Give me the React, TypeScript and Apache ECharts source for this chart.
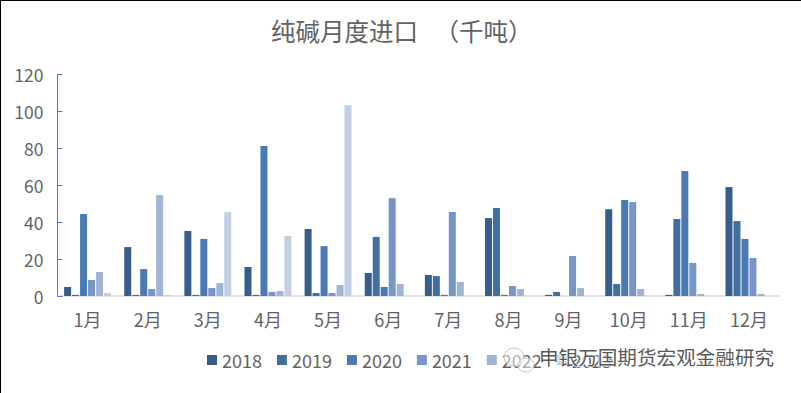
import React, { useEffect, useRef } from "react";
import * as echarts from "echarts";

const titleText = "纯碱月度进口   （千吨）";
const watermark = "申银万国期货宏观金融研究";
const months = ["1月", "2月", "3月", "4月", "5月", "6月", "7月", "8月", "9月", "10月", "11月", "12月"];
const years = ["2018", "2019", "2020", "2021", "2022", "2023"];
const colors = ["#385d8a", "#41709f", "#4a7ab5", "#7596c6", "#a2b4d6", "#c3cfe3"];
const v2018 = [4.9, 26.5, 35.2, 15.7, 36.3, 12.5, 11.4, 42.2, 0.6, 47, 0.6, 59];
const v2019 = [0.6, 0.6, 0.6, 0.6, 1.6, 32, 10.8, 47.7, 2.2, 6.5, 41.7, 40.6];
const v2020 = [44.4, 14.6, 30.9, 81.2, 27, 4.9, 0.6, 0.6, null, 52, 67.7, 30.9];
const v2021 = [8.7, 3.8, 4.3, 2.2, 1.6, 53, 45.5, 5.4, 21.7, 50.9, 17.9, 20.6];
const v2022 = [13, 54.7, 7, 2.7, 6, 6.5, 7.6, 3.8, 4.3, 3.8, 1.1, 1.1];
const v2023 = [1.6, 0.6, 45.5, 32.5, 103.4, null, null, null, null, null, null, null];
const seriesValues = [v2018, v2019, v2020, v2021, v2022, v2023];

const FONT = '"Noto Sans CJK SC", "Noto Sans", sans-serif';
const GREY = "#636363";

export default function App() {
  const ref = useRef<HTMLDivElement>(null);
  useEffect(() => {
    document.body.style.margin = "0";
    const chart = echarts.init(ref.current!, undefined, { renderer: "svg" });
    chart.setOption({
      animation: false,
      backgroundColor: "#ffffff",
      textStyle: { fontFamily: FONT },
      title: {
        text: titleText,
        left: 271,
        top: 18,
        padding: 0,
        textStyle: { fontFamily: FONT, fontSize: 24.5, fontWeight: "normal", color: GREY },
      },
      legend: {
        data: years,
        left: 207,
        top: 351,
        padding: 0,
        selectedMode: false,
        icon: "rect",
        itemWidth: 10,
        itemHeight: 10,
        itemGap: 15,
        textStyle: { fontFamily: FONT, fontSize: 18, color: GREY },
      },
      grid: { left: 57.5, right: 22, top: 74.5, height: 221.5 },
      xAxis: {
        type: "category",
        data: months,
        axisLine: { lineStyle: { color: "#d9d9d9", width: 1.5 } },
        axisTick: { show: false },
        axisLabel: { fontFamily: FONT, fontSize: 18, color: GREY, margin: 14 },
      },
      yAxis: {
        type: "value",
        min: 0,
        max: 120,
        interval: 20,
        splitLine: { show: false },
        axisLine: { show: true, lineStyle: { color: "#4a7ebb", width: 1 } },
        axisTick: { show: true, inside: true, length: 5, lineStyle: { color: "#4a7ebb" } },
        axisLabel: { fontFamily: FONT, fontSize: 17.5, color: GREY, margin: 14, padding: [0, 0, 2, 0] },
      },
      series: years.map((y, i) => ({
        name: y,
        type: "bar",
        data: seriesValues[i],
        barWidth: 7,
        barGap: "14%",
        itemStyle: { color: colors[i] },
      })),
      graphic: [
        {
          type: "ellipse", z: 100,
          shape: { cx: 514, cy: 357, rx: 10, ry: 9 },
          style: { fill: "rgba(255,255,255,0.5)", stroke: "#c4c4c4", lineWidth: 1 },
        },
        {
          type: "ellipse", z: 100,
          shape: { cx: 526, cy: 365, rx: 8, ry: 7 },
          style: { fill: "rgba(255,255,255,0.5)", stroke: "#c4c4c4", lineWidth: 1 },
        },
        {
          type: "text", z: 101,
          x: 539, y: 347,
          style: {
            text: watermark,
            fontFamily: FONT,
            fontSize: 19.6,
            fill: "#5a5a5a",
            stroke: "rgba(255,255,255,0.8)",
            lineWidth: 2,
          },
        },
      ],
    });
    return () => chart.dispose();
  }, []);
  return (
    <div style={{ position: "relative", width: 801, height: 393, overflow: "hidden" }}>
      <div ref={ref} style={{ width: 801, height: 393 }} />
      <div style={{ position: "absolute", left: 0, top: 0, width: 1, height: 393, background: "#000" }} />
      <div style={{ position: "absolute", left: 0, top: 0, width: 801, height: 1, background: "#000" }} />
    </div>
  );
}
